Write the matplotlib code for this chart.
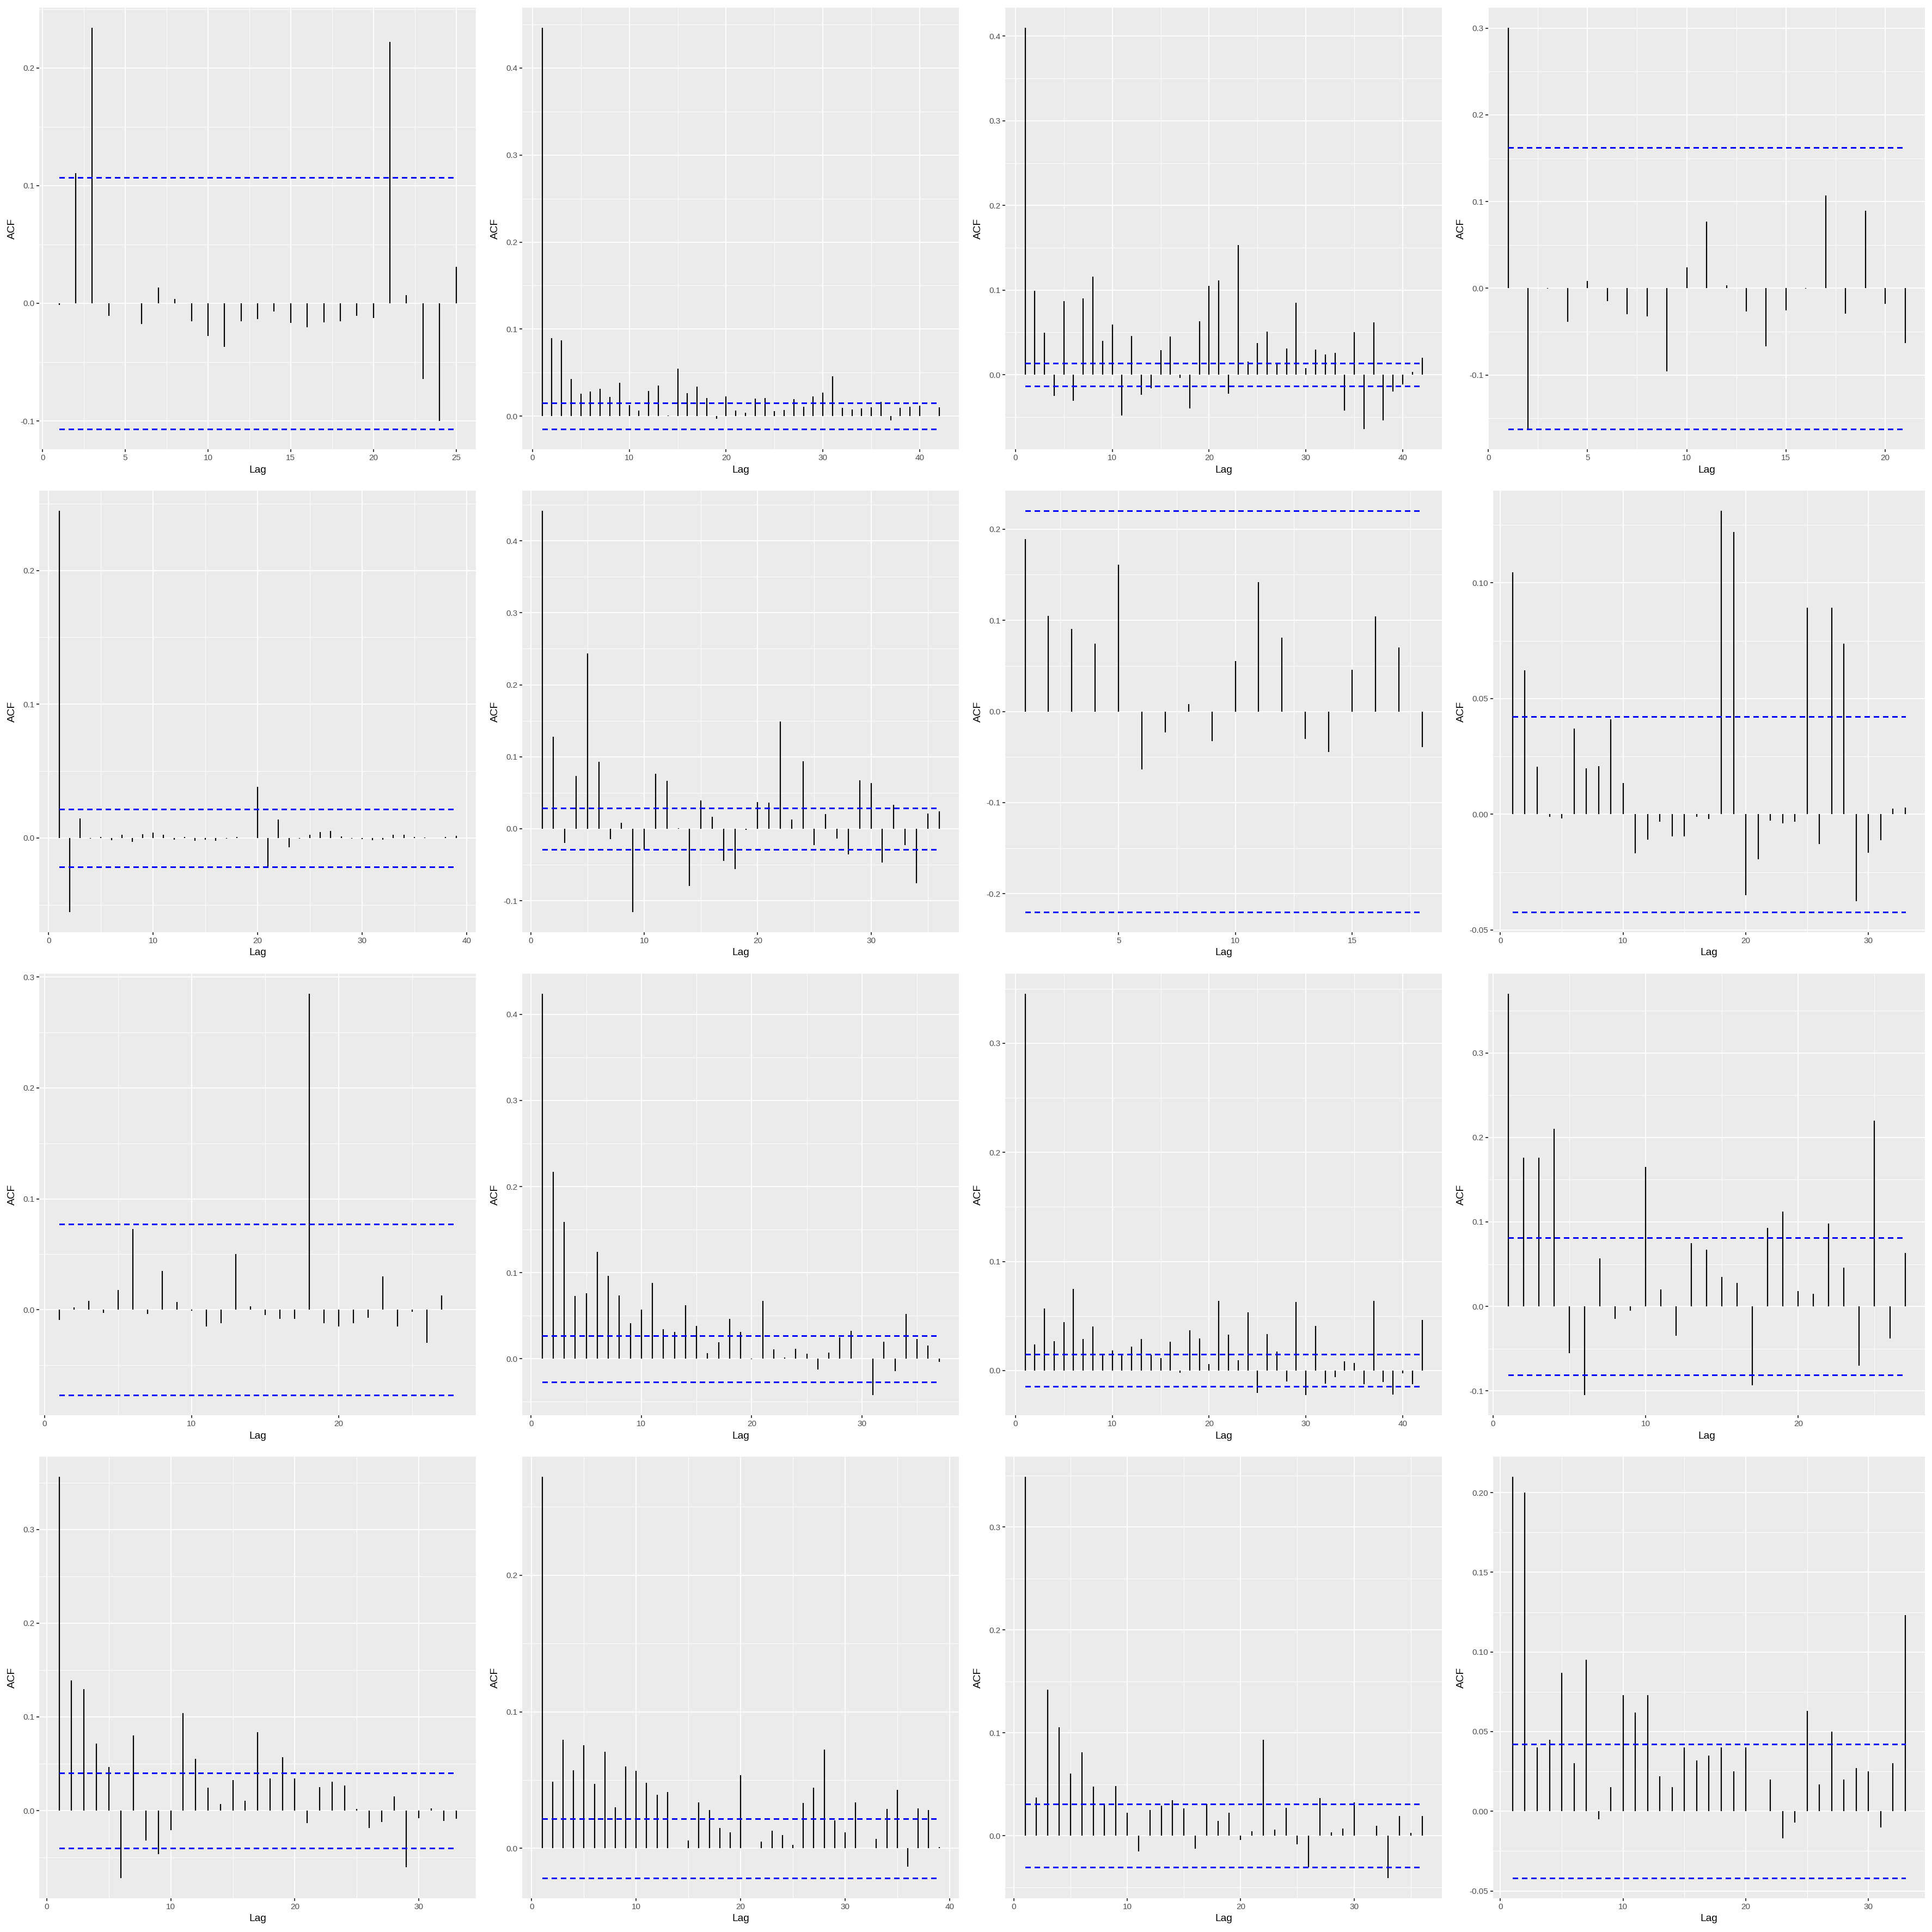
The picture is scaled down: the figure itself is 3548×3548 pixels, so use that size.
"""Grid of sixteen ACF plots drawn in the ggplot2 grey theme."""

import matplotlib

matplotlib.use("Agg")
import matplotlib.pyplot as plt
import numpy as np
from matplotlib.ticker import FormatStrFormatter, MultipleLocator

plt.rcParams["font.family"] = ["Liberation Sans", "DejaVu Sans"]

# ---- data: autocorrelations per lag (lag 1 .. n) and the CI half width ----
acf_01 = [-0.0015, 0.1105, 0.2343, -0.0105, 0.0, -0.0178, 0.0136, 0.0039, -0.0152, -0.0277,
          -0.0372, -0.0152, -0.0136, -0.0068, -0.0168, -0.0204, -0.0162, -0.0152, -0.0105, -0.0126,
          0.222, 0.0068, -0.0644, -0.100, 0.0309]
ci_01 = 0.107

acf_02 = [0.4463, 0.0898, 0.0870, 0.0428, 0.0258, 0.0283, 0.0315, 0.0223, 0.0382, 0.0124,
          0.0064, 0.0290, 0.0350, 0.0010, 0.0548, 0.0262, 0.0340, 0.0205, -0.0028, 0.0226,
          0.0064, 0.0039, 0.0202, 0.0205, 0.0057, 0.0067, 0.0198, 0.0106, 0.0226, 0.0269,
          0.0460, 0.0092, 0.0074, 0.0088, 0.0103, 0.0163, -0.0046, 0.0092, 0.0106, 0.0120,
          0.0004, 0.0099]
ci_02 = 0.0150

acf_03 = [0.410, 0.099, 0.0499, -0.0248, 0.0866, -0.0309, 0.0903, 0.1158, 0.0400, 0.0593,
          -0.0484, 0.0455, -0.0237, -0.0160, 0.0291, 0.0448, -0.0040, -0.0400, 0.0633, 0.1052,
          0.1114, -0.0226, 0.1529, 0.0157, 0.0375, 0.0506, 0.0135, 0.0309, 0.0852, 0.0076,
          0.0295, 0.0240, 0.0258, -0.0422, 0.0502, -0.0644, 0.0619, -0.0542, -0.0200, -0.0116,
          0.0033, 0.0200]
ci_03 = 0.0138

acf_04 = [0.3005, -0.1616, -0.0005, -0.0384, 0.0085, -0.0149, -0.0298, -0.0323, -0.0956, 0.0242,
          0.0771, 0.0036, -0.0270, -0.0668, -0.0256, -0.0007, 0.1069, -0.0295, 0.0895, -0.0178,
          -0.0632]
ci_04 = 0.1625

acf_05 = [0.2447, -0.0555, 0.0145, -0.0005, 0.0007, -0.0016, 0.0023, -0.0028, 0.0028, 0.0041,
          0.0025, -0.0014, 0.0009, -0.0023, -0.0014, -0.0023, -0.0005, 0.0009, -0.0002, 0.0382,
          -0.0219, 0.0138, -0.0069, -0.0005, 0.0023, 0.0044, 0.0051, 0.0012, -0.0005, -0.0009,
          -0.0018, -0.0012, 0.0025, 0.0025, 0.0007, 0.0005, -0.0002, 0.0009, 0.0014]
ci_05 = 0.0215

acf_06 = [0.4418, 0.1279, -0.0197, 0.0736, 0.2438, 0.0932, -0.0145, 0.0081, -0.1159, -0.0291,
          0.0766, 0.0667, 0.0009, -0.0796, 0.0389, 0.0163, -0.0449, -0.0560, -0.0013, 0.0368,
          0.0359, 0.1493, 0.0128, 0.0941, -0.0227, 0.0201, -0.0137, -0.0359, 0.0672, 0.0637,
          -0.0466, 0.0329, -0.0231, -0.0757, 0.0210, 0.0240]
ci_06 = 0.029

acf_07 = [0.189, 0.105, 0.0905, 0.0743, 0.161, -0.0635, -0.023, 0.008, -0.0324, 0.0554,
          0.142, 0.081, -0.030, -0.0446, 0.046, 0.104, 0.070, -0.039]
ci_07 = 0.2203

acf_08 = [0.1045, 0.0623, 0.0205, -0.0011, -0.0019, 0.0371, 0.0198, 0.0209, 0.0411, 0.0136,
          -0.0169, -0.0109, -0.0033, -0.0096, -0.0096, -0.0011, -0.0020, 0.1312, 0.1220, -0.0349,
          -0.0194, -0.0027, -0.0039, -0.0032, 0.0892, -0.0128, 0.0893, 0.0737, -0.0375, -0.0166,
          -0.0113, 0.0024, 0.0029]
ci_08 = 0.0423

acf_09 = [-0.009, 0.002, 0.008, -0.003, 0.018, 0.073, -0.004, 0.035, 0.007, -0.001,
          -0.015, -0.012, 0.050, 0.003, -0.005, -0.008, -0.008, 0.285, -0.012, -0.015,
          -0.012, -0.007, 0.030, -0.015, -0.002, -0.030, 0.013, 0.000]
ci_09 = 0.077

acf_10 = [0.4239, 0.2173, 0.1590, 0.0729, 0.0761, 0.1240, 0.0961, 0.0733, 0.0411, 0.0572,
          0.0883, 0.0343, 0.0315, 0.0622, 0.0379, 0.0064, 0.0189, 0.0461, 0.0311, -0.0007,
          0.0675, 0.0107, 0.0018, 0.0118, 0.0057, -0.0122, 0.0075, 0.0250, 0.0325, 0.0005,
          -0.0422, 0.0200, -0.0143, 0.0518, 0.0232, 0.0154, -0.0036]
ci_10 = 0.027

acf_11 = [0.3455, 0.0237, 0.0570, 0.0271, 0.0446, 0.0748, 0.0291, 0.0406, 0.0138, 0.0183,
          0.0150, 0.0217, 0.0291, 0.0144, 0.0113, 0.0262, -0.0023, 0.0367, 0.0294, 0.0059,
          0.0638, 0.0330, 0.0096, 0.0536, -0.0206, 0.0336, 0.0175, -0.0102, 0.0627, -0.0226,
          0.0409, -0.0121, -0.0062, 0.0082, 0.0071, -0.0127, 0.0638, -0.0104, -0.0220, -0.0028,
          -0.0127, 0.0466]
ci_11 = 0.0147

acf_12 = [0.37, 0.176, 0.176, 0.21, -0.055, -0.105, 0.057, -0.015, -0.005, 0.165,
          0.02, -0.035, 0.075, 0.067, 0.035, 0.028, -0.093, 0.093, 0.112, 0.018,
          0.015, 0.098, 0.046, -0.07, 0.22, -0.038, 0.063]
ci_12 = 0.081

acf_13 = [0.3562, 0.1390, 0.1295, 0.0716, 0.0467, -0.0720, 0.0802, -0.0319, -0.0463, -0.0210,
          0.1042, 0.0552, 0.0243, 0.0069, 0.0329, 0.0105, 0.0838, 0.0345, 0.0572, 0.0345,
          -0.0131, 0.0253, 0.0306, 0.0269, 0.0016, -0.0184, -0.0122, 0.0151, -0.0601, -0.0082,
          0.0026, -0.0112, -0.0089]
ci_13 = 0.0401

acf_14 = [0.2721, 0.0489, 0.0797, 0.0572, 0.0755, 0.0473, 0.0709, 0.0302, 0.0599, 0.0568,
          0.0482, 0.0394, 0.0412, 0.0002, 0.0059, 0.0336, 0.0282, 0.0149, 0.0119, 0.0534,
          0.0002, 0.0050, 0.0128, 0.0097, 0.0025, 0.0331, 0.0444, 0.0723, 0.0205, 0.0117,
          0.0336, 0.0002, 0.0068, 0.0288, 0.0428, -0.0135, 0.0291, 0.0282, 0.0011]
ci_14 = 0.0218

acf_15 = [0.3490, 0.0371, 0.1417, 0.1055, 0.0602, 0.0812, 0.0479, 0.0309, 0.0485, 0.0225,
          -0.0153, 0.0249, 0.0294, 0.0345, 0.0264, -0.0126, 0.0309, 0.0144, 0.0222, -0.0042,
          0.0045, 0.0932, 0.0060, 0.0270, -0.0084, -0.0306, 0.0365, 0.0030, 0.0072, 0.0324,
          0.0003, 0.0096, -0.0413, 0.0192, 0.0027, 0.0192]
ci_15 = 0.0306

acf_16 = [0.21, 0.20, 0.04, 0.045, 0.087, 0.03, 0.095, -0.005, 0.015, 0.073,
          0.062, 0.073, 0.022, 0.015, 0.04, 0.032, 0.035, 0.04, 0.025, 0.04,
          0.0, 0.02, -0.017, -0.007, 0.063, 0.017, 0.05, 0.02, 0.027, 0.025,
          -0.01, 0.03, 0.123]
ci_16 = 0.042

acf_series = [acf_01, acf_02, acf_03, acf_04, acf_05, acf_06, acf_07, acf_08,
              acf_09, acf_10, acf_11, acf_12, acf_13, acf_14, acf_15, acf_16]
ci_values = [ci_01, ci_02, ci_03, ci_04, ci_05, ci_06, ci_07, ci_08,
             ci_09, ci_10, ci_11, ci_12, ci_13, ci_14, ci_15, ci_16]

# break spacing used by ggplot for each panel
x_steps = [5, 10, 10, 5, 10, 10, 5, 10, 10, 10, 10, 10, 10, 10, 10, 10]
y_steps = [0.1, 0.1, 0.1, 0.1, 0.1, 0.1, 0.1, 0.05, 0.1, 0.1, 0.1, 0.1, 0.1, 0.1, 0.1, 0.05]

# ---- layout (pixels of the 3548 px square output) ----
PX = 3548
DPI = 125
CELL = 887
PANEL_TOP = 14
PANEL_BOTTOM = 825
PANEL_RIGHT = 874

BG = "#EBEBEB"
TEXT_GREY = "#4D4D4D"
TICK_GREY = "#333333"
LW = 1.07
MARK_LW = 1.25
CI_LW = 1.6


def _label_width(s: str) -> float:
    """Rough width of a tick label in em units (Arial metrics)."""
    return sum(0.333 if ch == "-" else 0.278 if ch == "." else 0.556 for ch in s)


def _limits(acf, ci):
    n = len(acf)
    xpad = 0.05 * (n - 1)
    hi = max(max(acf), ci, 0.0)
    lo = min(min(acf), -ci, 0.0)
    ypad = 0.05 * (hi - lo)
    return (1 - xpad, n + xpad), (lo - ypad, hi + ypad)


def draw_panel(fig, idx, acf, ci, x_step, y_step):
    row, col = divmod(idx, 4)
    xlim, ylim = _limits(acf, ci)

    decimals = 1 if y_step >= 0.1 else 2
    first = np.ceil(ylim[0] / y_step - 1e-9)
    last = np.floor(ylim[1] / y_step + 1e-9)
    ticks = np.arange(first, last + 1) * y_step
    labels = [f"{t:.{decimals}f}" for t in ticks]
    wmax = max(_label_width(s) for s in labels)

    left = col * CELL + 45 + 15.75 * wmax
    right = col * CELL + PANEL_RIGHT
    top = row * CELL + PANEL_TOP
    bottom = row * CELL + PANEL_BOTTOM

    ax = fig.add_axes([left / PX, 1 - bottom / PX, (right - left) / PX, (bottom - top) / PX])
    ax.set_facecolor(BG)
    for spine in ax.spines.values():
        spine.set_visible(False)

    ax.set_xlim(*xlim)
    ax.set_ylim(*ylim)
    ax.xaxis.set_major_locator(MultipleLocator(x_step))
    ax.xaxis.set_minor_locator(MultipleLocator(x_step / 2))
    ax.yaxis.set_major_locator(MultipleLocator(y_step))
    ax.yaxis.set_minor_locator(MultipleLocator(y_step / 2))
    ax.xaxis.set_major_formatter(FormatStrFormatter("%d"))
    ax.yaxis.set_major_formatter(FormatStrFormatter(f"%.{decimals}f"))

    ax.grid(which="major", color="white", linewidth=LW)
    ax.grid(which="minor", color="white", linewidth=LW / 2)
    ax.set_axisbelow(True)
    ax.tick_params(which="major", length=2.75, width=LW, color=TICK_GREY,
                   labelsize=8.8, labelcolor=TEXT_GREY, pad=2.2)
    ax.tick_params(which="minor", length=0)

    lags = np.arange(1, len(acf) + 1)
    ax.vlines(lags, 0, acf, colors="black", linewidth=MARK_LW)
    ax.hlines([ci, -ci], 1, len(acf), colors="#0000FF", linewidth=CI_LW,
              linestyles=(0, (3.5, 2.7)), antialiased=False)

    fig.text((col * CELL + 22) / PX, 1 - (top + bottom) / 2 / PX, "ACF",
             rotation=90, ha="center", va="center", fontsize=11, color="black")
    fig.text((left + right) / 2 / PX, 1 - (row * CELL + 863) / PX, "Lag",
             ha="center", va="center", fontsize=11, color="black")
    return ax


def main():
    fig = plt.figure(figsize=(PX / DPI, PX / DPI), dpi=DPI, facecolor="white")
    for i, (acf, ci) in enumerate(zip(acf_series, ci_values)):
        draw_panel(fig, i, acf, ci, x_steps[i], y_steps[i])
    fig.savefig("out.png", dpi=DPI, facecolor="white")
    plt.close(fig)


if __name__ == "__main__":
    main()
